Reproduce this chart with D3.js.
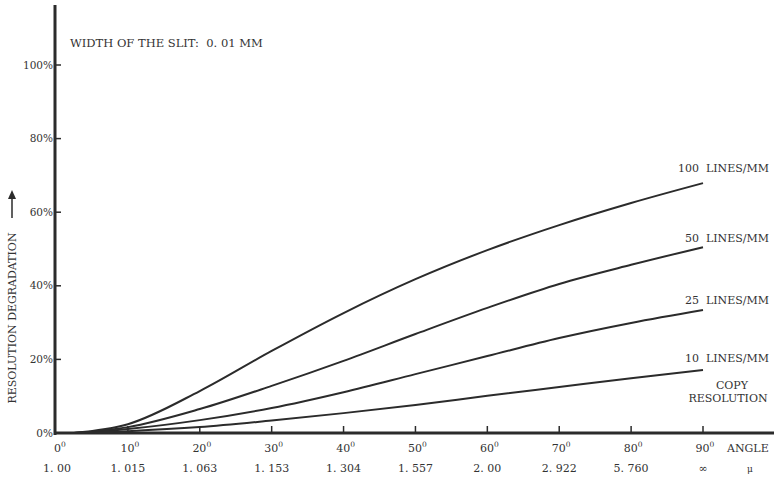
<!DOCTYPE html>
<html><head><meta charset="utf-8">
<script src="https://cdn.jsdelivr.net/npm/d3@7"></script>
<style>
html,body{margin:0;padding:0;background:#fff;}
svg{display:block;}
text{font-family:"DejaVu Serif","Liberation Serif",serif;fill:#333;}
</style></head>
<body>
<script>
// ---- data ----
const angles = [2.5, 10, 20, 30, 40, 50, 60, 70, 80, 90];
const lines100 = [0, 2.4, 11.4, 22.3, 32.6, 41.8, 49.7, 56.5, 62.5, 67.9];
const lines50  = [0, 1.6, 6.5, 12.8, 19.6, 26.9, 34.0, 40.5, 45.7, 50.5];
const lines25  = [0, 1.1, 3.5, 6.8, 11.1, 16.0, 20.9, 25.8, 29.9, 33.4];
const lines10  = [0, 0.5, 1.6, 3.4, 5.4, 7.6, 10.1, 12.5, 14.9, 17.1];
const seriesNames = ["100  LINES/MM", "50  LINES/MM", "25  LINES/MM", "10  LINES/MM"];
const angleTicks = [0, 10, 20, 30, 40, 50, 60, 70, 80, 90];
const secTicks = ["1. 00", "1. 015", "1. 063", "1. 153", "1. 304", "1. 557", "2. 00", "2. 922", "5. 760", "\u221E"];
const yTicks = [0, 20, 40, 60, 80, 100];

const W = 774, H = 478;
const svg = d3.select("body").append("svg").attr("width", W).attr("height", H);

const x = d3.scaleLinear().domain([0, 90]).range([56, 703]);
const y = d3.scaleLinear().domain([0, 100]).range([433, 65]);

const ink = "#2b2b2b";

// axes lines
svg.append("line").attr("x1", 55).attr("x2", 55).attr("y1", 5).attr("y2", 435)
  .attr("stroke", ink).attr("stroke-width", 3);
svg.append("line").attr("x1", 54).attr("x2", 774).attr("y1", y(0)).attr("y2", y(0))
  .attr("stroke", ink).attr("stroke-width", 3);

// y ticks
const yt = svg.append("g");
yTicks.forEach(v => {
  if (v > 0) yt.append("line").attr("x1", 55).attr("x2", 61).attr("y1", y(v)).attr("y2", y(v))
    .attr("stroke", ink).attr("stroke-width", 1.5);
  yt.append("text").attr("x", 53).attr("y", y(v)).attr("dy", "0.35em")
    .attr("text-anchor", "end").attr("font-size", 10.5).text(v + "%");
});

// x ticks
const xt = svg.append("g");
angleTicks.forEach((a, i) => {
  if (a > 0) xt.append("line").attr("x1", x(a)).attr("x2", x(a)).attr("y1", y(0) - 7).attr("y2", y(0))
    .attr("stroke", ink).attr("stroke-width", 1.5);
  const t = xt.append("text").attr("x", x(a) + (a === 0 ? 4 : 2)).attr("y", 452)
    .attr("text-anchor", "middle").attr("font-size", 11);
  t.append("tspan").text(a);
  t.append("tspan").attr("font-size", 7.5).attr("dy", -5).text("0");
  xt.append("text").attr("x", x(a) + (a === 0 ? 1 : 0)).attr("y", 472)
    .attr("text-anchor", "middle").attr("font-size", 11).attr("xml:space", "preserve")
    .text(secTicks[i]);
});
svg.append("text").attr("x", 727).attr("y", 452).attr("font-size", 11).text("ANGLE");
svg.append("text").attr("x", 747).attr("y", 472).attr("font-size", 9).text("\u03BC");

// curves
const line = d3.line().x(d => x(d[0])).y(d => y(d[1])).curve(d3.curveMonotoneX);
const allSeries = [lines100, lines50, lines25, lines10];
allSeries.forEach((s, i) => {
  const pts = angles.map((a, j) => [a, s[j]]);
  svg.append("path").datum(pts).attr("d", line).attr("fill", "none")
    .attr("stroke", ink).attr("stroke-width", 2);
});

// series labels
const labelY = [172, 242, 304, 362];
seriesNames.forEach((n, i) => {
  svg.append("text").attr("x", 769).attr("y", labelY[i]).attr("text-anchor", "end")
    .attr("font-size", 11).attr("xml:space", "preserve").text(n);
});
svg.append("text").attr("x", 732).attr("y", 389).attr("text-anchor", "middle").attr("font-size", 11).text("COPY");
svg.append("text").attr("x", 728).attr("y", 402).attr("text-anchor", "middle").attr("font-size", 11).text("RESOLUTION");

// title
svg.append("text").attr("x", 70).attr("y", 47).attr("font-size", 11.5).attr("xml:space", "preserve")
  .text("WIDTH OF THE SLIT:  0. 01 MM");

// y title
svg.append("text").attr("transform", "translate(16,318) rotate(-90)").attr("text-anchor", "middle")
  .attr("font-size", 11).text("RESOLUTION DEGRADATION");
svg.append("line").attr("x1", 12).attr("x2", 12).attr("y1", 218).attr("y2", 196)
  .attr("stroke", ink).attr("stroke-width", 1.5);
svg.append("path").attr("d", "M8,199 L12,190 L16,199 Z").attr("fill", ink);
</script>
</body></html>
